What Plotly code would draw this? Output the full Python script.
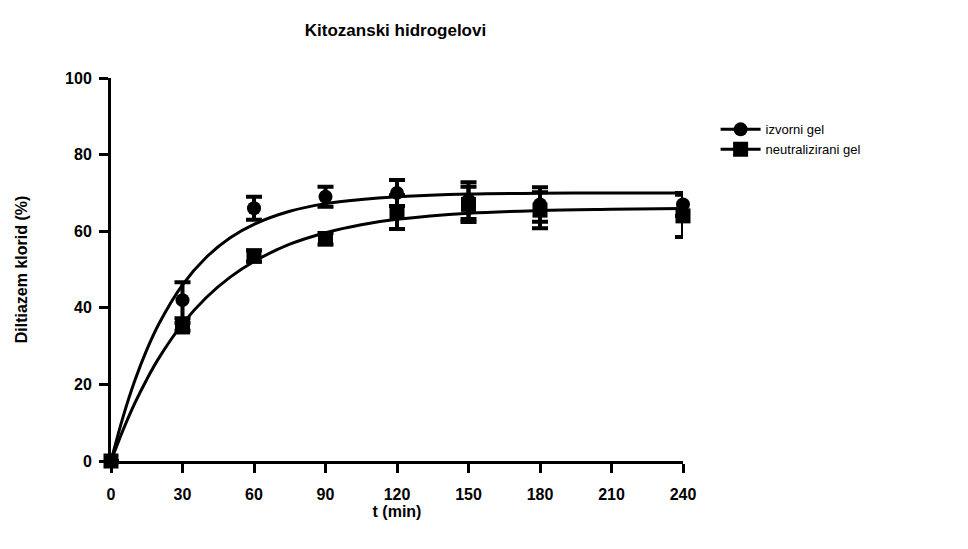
import plotly.graph_objects as go

# izmjereni podaci (srednja vrijednost ± SD)
t_min = [0, 30, 60, 90, 120, 150, 180, 240]
izvorni = [0, 42, 66, 69, 70, 68, 67, 67]
izvorni_sd = [0, 4.7, 3.0, 2.6, 3.4, 4.8, 4.5, 3.0]
neutral = [0, 35, 53.5, 58, 65, 67, 65.5, 64]
neutral_sd = [0, 1.0, 1.5, 1.5, 4.4, 4.6, 4.7, 5.5]

# krivulje prilagodbe (očitane sa slike)
t_fit = [0, 5, 10, 15, 20, 30, 40, 50, 60, 75, 90, 105, 120, 150, 180, 210, 240]
izvorni_fit = [0, 11.4, 21.0, 29.0, 35.7, 46.0, 53.2, 58.3, 61.8, 65.2, 67.2, 68.3, 69.0, 69.7, 69.9, 70.0, 70.0]
neutral_fit = [0, 8.0, 15.1, 21.3, 26.8, 35.8, 42.7, 48.0, 52.1, 56.6, 59.6, 61.7, 63.1, 64.7, 65.4, 65.7, 65.9]

FONT = "Arial, Liberation Sans, sans-serif"
bold = dict(family=FONT, size=16, color='black', weight='bold')

fig = go.Figure()

# linije prilagodbe
for y in [izvorni_fit, neutral_fit]:
    fig.add_trace(go.Scatter(x=t_fit, y=y, mode='lines', line=dict(color='black', width=3, shape='spline'),
                             showlegend=False, hoverinfo='skip', cliponaxis=False))

# točke s error barovima
fig.add_trace(go.Scatter(x=t_min, y=neutral, mode='markers', showlegend=False, cliponaxis=False,
                         marker=dict(symbol='square', size=15, color='black'),
                         error_y=dict(type='data', array=neutral_sd, color='black', thickness=4, width=8)))
fig.add_trace(go.Scatter(x=t_min, y=izvorni, mode='markers', showlegend=False, cliponaxis=False,
                         marker=dict(symbol='circle', size=14, color='black'),
                         error_y=dict(type='data', array=izvorni_sd, color='black', thickness=4, width=8)))

# stavke legende
fig.add_trace(go.Scatter(x=[None], y=[None], mode='lines+markers', name='izvorni gel',
                         line=dict(color='black', width=3), marker=dict(symbol='circle', size=14, color='black')))
fig.add_trace(go.Scatter(x=[None], y=[None], mode='lines+markers', name='neutralizirani gel',
                         line=dict(color='black', width=3), marker=dict(symbol='square', size=15, color='black')))

fig.update_layout(
    width=968, height=549,
    margin=dict(l=100, r=293, t=70, b=96),
    paper_bgcolor='white', plot_bgcolor='white',
    title=dict(text='Kitozanski hidrogelovi', x=(100 + 675) / 2 / 968, xanchor='center',
               y=1 - 22 / 549, yanchor='middle', font=dict(family=FONT, size=17, color='black', weight='bold')),
    legend=dict(x=1.057, y=0.905, xanchor='left', yanchor='top',
                font=dict(family=FONT, size=13, color='black'), tracegroupgap=0, itemwidth=40),
    font=dict(family=FONT, color='black'),
)

fig.update_xaxes(range=[0, 240], tickvals=[0, 30, 60, 90, 120, 150, 180, 210, 240],
                 showgrid=False, zeroline=False, showline=True, linecolor='black', linewidth=3,
                 ticks='outside', ticklen=9, tickwidth=3, tickcolor='black', ticklabelstandoff=8,
                 tickfont=bold, title=dict(text='t (min)', font=bold, standoff=2))
fig.update_yaxes(range=[0, 100], tickvals=[0, 20, 40, 60, 80, 100],
                 showgrid=False, zeroline=False, showline=True, linecolor='black', linewidth=3,
                 ticks='outside', ticklen=9, tickwidth=3, tickcolor='black', ticklabelstandoff=4,
                 tickfont=bold, title=dict(text='Diltiazem klorid (%)', font=bold, standoff=34))

fig.write_html("out.html")
